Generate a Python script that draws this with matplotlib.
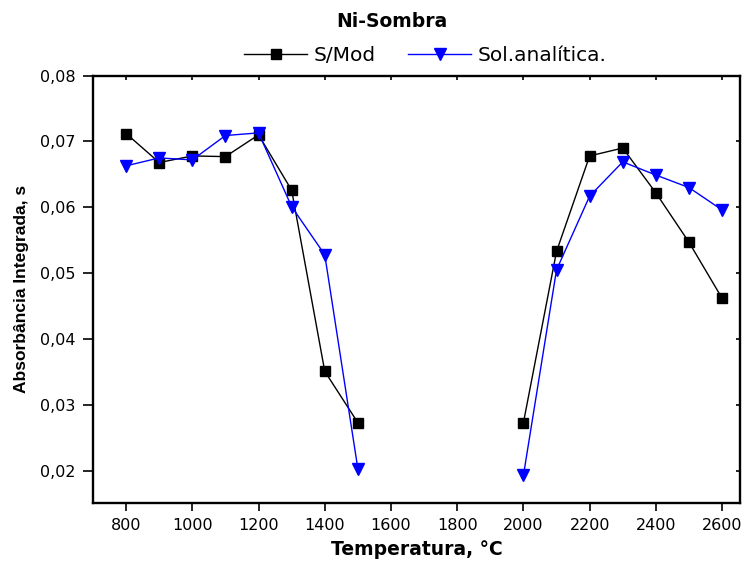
import matplotlib
matplotlib.use("Agg")
import matplotlib.pyplot as plt
import numpy as np
from matplotlib.ticker import FuncFormatter

plt.rcParams['font.family'] = ['DejaVu Sans']

# temperatures, with a NaN break between the two runs
temp = [800, 900, 1000, 1100, 1200, 1300, 1400, 1500, 1750,
        2000, 2100, 2200, 2300, 2400, 2500, 2600]
s_mod = [0.0712, 0.0668, 0.0678, 0.0677, 0.0710, 0.0626, 0.0351, 0.0273, np.nan,
         0.0273, 0.0533, 0.0678, 0.0690, 0.0622, 0.0547, 0.0462]
sol_analitica = [0.0663, 0.0675, 0.0672, 0.0709, 0.0713, 0.0601, 0.0528, 0.0203, np.nan,
                 0.0193, 0.0505, 0.0617, 0.0669, 0.0649, 0.0630, 0.0596]

fig = plt.figure(figsize=(7.44, 5.64), dpi=100)
ax = fig.add_axes([0.125, 0.108, 0.870, 0.758])

ax.plot(temp, s_mod, color="black", lw=1, marker="s", ms=7.5,
        label="S/Mod")
ax.plot(temp, sol_analitica, color="blue", lw=1, marker="v", ms=9,
        label="Sol.analítica.")

ax.set_xlim(700, 2655)
ax.set_ylim(0.0151, 0.08)
ax.set_xticks(range(800, 2601, 200))
ax.set_yticks([0.02, 0.03, 0.04, 0.05, 0.06, 0.07, 0.08])
ax.yaxis.set_major_formatter(FuncFormatter(lambda v, p: f"{v:.2f}".replace(".", ",")))

for s in ax.spines.values():
    s.set_linewidth(1.7)
ax.tick_params(axis="both", labelsize=11.5, width=1.2, pad=5)
ax.tick_params(axis="y", length=7.5)
ax.tick_params(axis="x", length=6)
ax.xaxis.set_ticks_position("both")
ax.yaxis.set_ticks_position("both")
# top and right ticks point inward and are short
for t in ax.xaxis.get_major_ticks():
    t.tick2line.set_marker(3)
    t.tick2line.set_markersize(3)
for t in ax.yaxis.get_major_ticks():
    t.tick2line.set_marker(0)
    t.tick2line.set_markersize(3)

ax.set_xlabel("Temperatura, °C", fontsize=13.5, fontweight="bold", labelpad=5)
ax.set_ylabel("Absorbância Integrada, s", fontsize=12.5, fontweight="bold",
              family=["Liberation Sans", "DejaVu Sans"], labelpad=8)
fig.text(0.527, 0.961, "Ni-Sombra", ha="center", va="center",
         fontsize=13.5, fontweight="bold")

fig.legend(loc="center", bbox_to_anchor=(0.572, 0.901), ncol=2, frameon=False,
           fontsize=14.5, handlelength=3.1, handletextpad=0.35, columnspacing=1.6)

fig.savefig("out.png", dpi=100)
